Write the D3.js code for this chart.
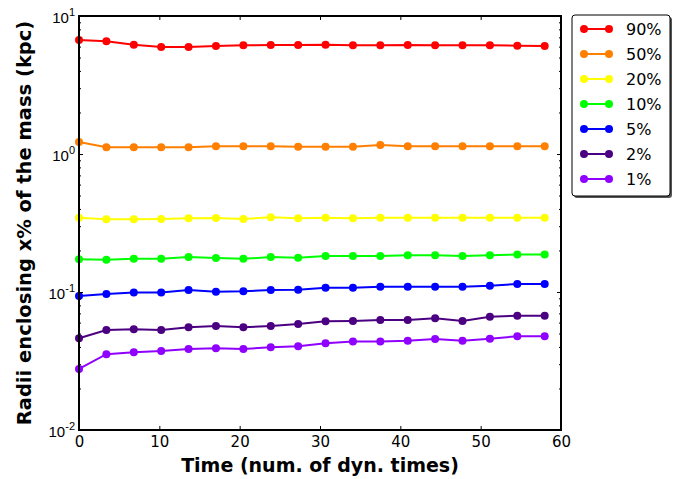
<!DOCTYPE html>
<html>
<head>
<meta charset="utf-8">
<script src="https://cdn.jsdelivr.net/npm/d3@7"></script>
<style>
  body { margin: 0; background: #fff; }
  svg { font-family: "DejaVu Sans", sans-serif; }
</style>
</head>
<body>
<div id="chart"></div>
<script>
var times = [0, 3.41, 6.82, 10.23, 13.64, 17.05, 20.46, 23.87, 27.28, 30.69,
             34.1, 37.51, 40.92, 44.33, 47.74, 51.15, 54.56, 57.97];

var labels = ['90%', '50%', '20%', '10%', '5%', '2%', '1%'];
var colors = ['#ff0000', '#ff7f00', '#ffff00', '#00ff00', '#0000ff', '#4b0082', '#8f00ff'];

var r90 = [6.7, 6.55, 6.2, 5.95, 5.95, 6.05, 6.13, 6.17, 6.17, 6.2, 6.13, 6.13, 6.17, 6.13, 6.13, 6.13, 6.09, 6.06];
var r50 = [1.22, 1.12, 1.12, 1.12, 1.12, 1.14, 1.14, 1.14, 1.13, 1.13, 1.13, 1.16, 1.14, 1.14, 1.14, 1.14, 1.14, 1.14];
var r20 = [0.345, 0.337, 0.337, 0.338, 0.342, 0.344, 0.338, 0.348, 0.342, 0.345, 0.342, 0.345, 0.345, 0.345, 0.345, 0.345, 0.345, 0.345];
var r10 = [0.173, 0.171, 0.174, 0.174, 0.179, 0.176, 0.174, 0.179, 0.177, 0.182, 0.182, 0.182, 0.185, 0.185, 0.182, 0.185, 0.187, 0.187];
var r5 = [0.0935, 0.0967, 0.099, 0.099, 0.1034, 0.1005, 0.1012, 0.1034, 0.1039, 0.1074, 0.1074, 0.1093, 0.1093, 0.1093, 0.1093, 0.1111, 0.1143, 0.1143];
var r2 = [0.0462, 0.053, 0.0537, 0.053, 0.0555, 0.0567, 0.0555, 0.0567, 0.0586, 0.0613, 0.0617, 0.0627, 0.0627, 0.0645, 0.0617, 0.0662, 0.0673, 0.0673];
var r1 = [0.0277, 0.0354, 0.0366, 0.0374, 0.0386, 0.0391, 0.0386, 0.0398, 0.0404, 0.0425, 0.0437, 0.0437, 0.0444, 0.0457, 0.0444, 0.0459, 0.0478, 0.0478];

var xTicks = [0, 10, 20, 30, 40, 50, 60];
var yTicks = [0.01, 0.1, 1, 10];

var series = [r90, r50, r20, r10, r5, r2, r1].map(function(vals, i) {
  return {name: labels[i], color: colors[i], values: vals.map(function(v, j) { return {t: times[j], r: v}; })};
});

var width = 691, height = 479;
var margin = {left: 79, right: 130, top: 16, bottom: 49};

var svg = d3.select('#chart').append('svg')
  .attr('width', width)
  .attr('height', height);

var x = d3.scaleLinear()
  .domain([0, 60])
  .range([margin.left, width - margin.right]);

var y = d3.scaleLog()
  .domain([0.01, 10])
  .range([height - margin.bottom, margin.top]);

// minor ticks for the log axis
var minor = [];
[0.01, 0.1, 1].forEach(function(d) {
  for (var k = 2; k <= 9; k++) minor.push(d * k);
});

var line = d3.line()
  .x(function(d) { return x(d.t); })
  .y(function(d) { return y(d.r); });

var plot = svg.append('g');

series.forEach(function(s) {
  plot.append('path')
    .datum(s.values)
    .attr('d', line)
    .attr('fill', 'none')
    .attr('stroke', s.color)
    .attr('stroke-width', 2);
  plot.selectAll(null)
    .data(s.values)
    .enter().append('circle')
    .attr('cx', function(d) { return x(d.t); })
    .attr('cy', function(d) { return y(d.r); })
    .attr('r', 4)
    .attr('fill', s.color);
});

// axes, ticks pointing inward
var bottom = svg.append('g')
  .attr('transform', 'translate(0,' + (height - margin.bottom) + ')')
  .call(d3.axisBottom(x).tickValues(xTicks).tickSize(-4).tickPadding(6).tickFormat(d3.format('d')));

svg.append('g')
  .attr('transform', 'translate(0,' + margin.top + ')')
  .call(d3.axisTop(x).tickValues(xTicks).tickSize(-4).tickFormat(''));

var left = svg.append('g')
  .attr('transform', 'translate(' + margin.left + ',0)')
  .call(d3.axisLeft(y).tickValues(yTicks).tickSize(-4).tickPadding(5).tickFormat(''));

svg.append('g')
  .attr('transform', 'translate(' + margin.left + ',0)')
  .call(d3.axisLeft(y).tickValues(minor).tickSize(-2).tickFormat(''));

svg.append('g')
  .attr('transform', 'translate(' + (width - margin.right) + ',0)')
  .call(d3.axisRight(y).tickValues(yTicks).tickSize(-4).tickFormat(''));

svg.append('g')
  .attr('transform', 'translate(' + (width - margin.right) + ',0)')
  .call(d3.axisRight(y).tickValues(minor).tickSize(-2).tickFormat(''));

svg.selectAll('.domain').remove();
svg.selectAll('.tick line').attr('stroke', '#000').attr('stroke-width', 1);

bottom.selectAll('text')
  .attr('font-size', 15)
  .attr('fill', '#000')
  .attr('font-family', 'DejaVu Sans');

// y labels as 10^n
left.selectAll('.tick').each(function(d) {
  var t = d3.select(this).append('text')
    .attr('x', -4)
    .attr('y', 6)
    .attr('text-anchor', 'end')
    .attr('fill', '#000')
    .attr('font-size', 15);
  t.append('tspan').text('10');
  t.append('tspan')
    .attr('dy', -7)
    .attr('font-size', 11)
    .text(Math.round(Math.log10(d)));
});

// frame
svg.append('rect')
  .attr('x', margin.left)
  .attr('y', margin.top)
  .attr('width', width - margin.left - margin.right)
  .attr('height', height - margin.top - margin.bottom)
  .attr('fill', 'none')
  .attr('stroke', '#000')
  .attr('stroke-width', 2);

// axis titles
svg.append('text')
  .attr('x', (margin.left + width - margin.right) / 2)
  .attr('y', 472)
  .attr('text-anchor', 'middle')
  .attr('font-size', 19)
  .attr('font-weight', 'bold')
  .text('Time (num. of dyn. times)');

svg.append('text')
  .attr('transform', 'translate(31,' + ((margin.top + height - margin.bottom) / 2) + ') rotate(-90)')
  .attr('text-anchor', 'middle')
  .attr('font-size', 19.5)
  .attr('font-weight', 'bold')
  .text('Radii enclosing x% of the mass (kpc)');

// legend
var legend = svg.append('g')
  .attr('class', 'legend')
  .attr('transform', 'translate(572,15)');

legend.append('rect')
  .attr('x', 2).attr('y', 2)
  .attr('width', 98).attr('height', 181)
  .attr('rx', 3)
  .attr('fill', '#555');

legend.append('rect')
  .attr('width', 98).attr('height', 181)
  .attr('rx', 3)
  .attr('fill', '#fff')
  .attr('stroke', '#000')
  .attr('stroke-width', 1);

var item = legend.selectAll('.item')
  .data(series)
  .enter().append('g')
  .attr('class', 'item')
  .attr('transform', function(d, i) { return 'translate(0,' + (14 + i * 25) + ')'; });

item.append('line')
  .attr('x1', 12).attr('x2', 37)
  .attr('stroke', function(d) { return d.color; })
  .attr('stroke-width', 2);

item.selectAll('circle')
  .data(function(d) { return [d, d]; })
  .enter().append('circle')
  .attr('cx', function(d, i) { return i ? 37 : 12; })
  .attr('r', 4)
  .attr('fill', function(d) { return d.color; });

item.append('text')
  .attr('x', 54)
  .attr('y', 6)
  .attr('font-size', 16)
  .text(function(d) { return d.name; });
</script>
</body>
</html>
